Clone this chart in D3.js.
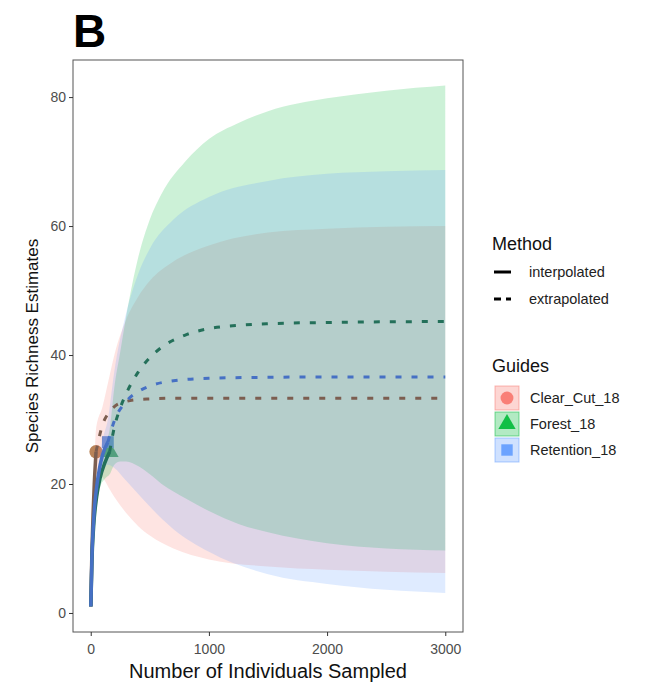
<!DOCTYPE html>
<html>
<head>
<meta charset="utf-8">
<script src="https://cdn.jsdelivr.net/npm/d3@7"></script>
<style>
  body { margin: 0; background: #fff; }
  svg text { font-family: "Liberation Sans", Arial, sans-serif; }
</style>
</head>
<body>
<div id="chart"></div>
<script>
var width = 649,
    height = 689;

// sites and their colours
var sites = ["Clear_Cut_18", "Forest_18", "Retention_18"];
var fillColors = ["#F8766D", "#00BA38", "#619CFF"];
var lineColors = ["#7c5e50", "#24705a", "#4670c4"];
var pointColors = ["#b98358", "#3fa467", "#5b8fdc"];
var shapes = ["circle", "triangle", "square"];

// observed sample (reference) points
var obsN = [45, 160, 145];
var obsS = [25, 25, 26.5];

// Clear_Cut_18
var clearM  = [1, 5, 10, 20, 30, 45, 100, 150, 200, 300, 400, 500, 700, 1000, 1500, 2000, 2500, 3000];
var clearEst = [1, 5.2, 9.5, 15.5, 20, 25, 29.2, 31.0, 32.0, 32.8, 33.1, 33.2, 33.3, 33.3, 33.3, 33.3, 33.3, 33.3];
var clearLo = [1, 4.8, 8.8, 14, 18, 21.5, 21, 19.5, 18, 15.5, 13.5, 12, 10, 8.3, 7.2, 6.7, 6.4, 6.2];
var clearHi = [1, 5.6, 10.2, 17, 22, 28.5, 32, 36, 40, 45.5, 49, 51.5, 54.5, 57, 59, 59.6, 59.9, 60];

// Forest_18
var forestM  = [1, 10, 25, 50, 80, 120, 160, 200, 250, 300, 400, 500, 600, 800, 1000, 1250, 1500, 2000, 2500, 3000];
var forestEst = [1, 8, 13.5, 18, 21, 23.3, 25, 28.8, 31.8, 34.0, 37.3, 39.6, 41.2, 43.1, 44.1, 44.6, 44.85, 45.05, 45.15, 45.2];
var forestLo = [1, 7.5, 12.7, 16.8, 19.5, 20.8, 21.5, 23, 23.5, 23.5, 22.8, 21.5, 20, 17.8, 15.8, 13.8, 12.5, 10.8, 10, 9.7];
var forestHi = [1, 8.5, 14.3, 19.2, 22.5, 25.8, 28.5, 35, 40.5, 46, 55, 61, 65, 70, 73.5, 76, 77.8, 79.8, 81, 81.8];

// Retention_18
var retM  = [1, 10, 25, 50, 75, 100, 145, 200, 300, 400, 500, 700, 1000, 1500, 2000, 2500, 3000];
var retEst = [1, 8.5, 14.5, 19.5, 22.5, 24.5, 26.5, 29.8, 32.8, 34.3, 35.2, 36.0, 36.4, 36.55, 36.6, 36.6, 36.6];
var retLo = [1, 8, 13.6, 18.2, 20.8, 22.2, 23, 22.5, 20.5, 18.5, 16.5, 13, 9.5, 6, 4.5, 3.6, 3.1];
var retHi = [1, 9, 15.4, 20.8, 24.2, 26.8, 30, 37.5, 46.5, 52.5, 56.5, 61, 64.5, 67, 68.1, 68.5, 68.7];

var xTicks = [0, 1000, 2000, 3000];
var yTicks = [0, 20, 40, 60, 80];
var methods = ["interpolated", "extrapolated"];

function build(m, est, lo, hi, n) {
    return m.map(function(v, i) {
        return { m: v, est: est[i], lo: lo[i], hi: hi[i], interp: v <= n };
    });
}

var series = [
    build(clearM, clearEst, clearLo, clearHi, obsN[0]),
    build(forestM, forestEst, forestLo, forestHi, obsN[1]),
    build(retM, retEst, retLo, retHi, obsN[2])
];

var svg = d3.select("#chart").append("svg")
    .attr("width", width)
    .attr("height", height);

var panel = { left: 73, right: 463, top: 60, bottom: 632 };

var x = d3.scaleLinear().domain([-150, 3150]).range([panel.left, panel.right]);
var y = d3.scaleLinear().domain([-2.95, 85.75]).range([panel.bottom, panel.top]);

// observed points (drawn under the bands, as in the original)
function shapePath(shape, size) {
    var sym = shape === "circle" ? d3.symbolCircle :
              shape === "triangle" ? d3.symbolTriangle : d3.symbolSquare;
    return d3.symbol().type(sym).size(size)();
}

svg.append("g")
    .selectAll("path")
    .data(sites)
    .enter().append("path")
    .attr("d", function(d, i) { return shapePath(shapes[i], 140); })
    .attr("transform", function(d, i) {
        return "translate(" + x(obsN[i]) + "," + y(obsS[i]) + ")";
    })
    .attr("fill", function(d, i) { return pointColors[i]; });

// ribbons (confidence bands)
var area = d3.area()
    .x(function(d) { return x(d.m); })
    .y0(function(d) { return y(d.lo); })
    .y1(function(d) { return y(d.hi); })
    .curve(d3.curveMonotoneX);

svg.append("g")
    .selectAll("path")
    .data(series)
    .enter().append("path")
    .attr("d", area)
    .attr("fill", function(d, i) { return fillColors[i]; })
    .attr("fill-opacity", 0.2);

// estimate lines
var line = d3.line()
    .x(function(d) { return x(d.m); })
    .y(function(d) { return y(d.est); })
    .curve(d3.curveMonotoneX);

var lines = svg.append("g");
series.forEach(function(s, i) {
    var interp = s.filter(function(d) { return d.interp; });
    var extrap = s.filter(function(d) { return d.m >= obsN[i]; });
    lines.append("path")
        .attr("d", line(extrap))
        .attr("fill", "none")
        .attr("stroke", lineColors[i])
        .attr("stroke-width", 3)
        .attr("stroke-dasharray", "6,10");
    lines.append("path")
        .attr("d", line(interp))
        .attr("fill", "none")
        .attr("stroke", lineColors[i])
        .attr("stroke-width", 3.5);
});

// panel border
svg.append("rect")
    .attr("x", panel.left)
    .attr("y", panel.top)
    .attr("width", panel.right - panel.left)
    .attr("height", panel.bottom - panel.top)
    .attr("fill", "none")
    .attr("stroke", "#555")
    .attr("stroke-width", 1);

// axes
var xAxis = svg.append("g")
    .attr("transform", "translate(0," + panel.bottom + ")")
    .call(d3.axisBottom(x).tickValues(xTicks).tickFormat(d3.format("d")).tickSize(4).tickSizeOuter(0));
var yAxis = svg.append("g")
    .attr("transform", "translate(" + panel.left + ",0)")
    .call(d3.axisLeft(y).tickValues(yTicks).tickFormat(d3.format("d")).tickSize(4).tickSizeOuter(0));

[xAxis, yAxis].forEach(function(a) {
    a.select(".domain").remove();
    a.selectAll(".tick line").attr("stroke", "#333");
    a.selectAll(".tick text")
        .attr("fill", "#4d4d4d")
        .style("font-size", "14px")
        .style("font-family", "'Liberation Sans', Arial, sans-serif");
});
xAxis.selectAll(".tick text").attr("dy", "1.1em");

// axis titles
svg.append("text")
    .attr("x", (panel.left + panel.right) / 2)
    .attr("y", 678)
    .attr("text-anchor", "middle")
    .attr("fill", "#111")
    .style("font-size", "20px")
    .text("Number of Individuals Sampled");

svg.append("text")
    .attr("transform", "translate(38," + (panel.top + panel.bottom) / 2 + ") rotate(-90)")
    .attr("text-anchor", "middle")
    .attr("fill", "#111")
    .style("font-size", "17px")
    .text("Species Richness Estimates");

// panel tag
svg.append("text")
    .attr("x", 73)
    .attr("y", 47)
    .attr("fill", "#000")
    .style("font-size", "46px")
    .style("font-weight", "bold")
    .text("B");

// legend: Method
var leg = svg.append("g");
leg.append("text")
    .attr("x", 492).attr("y", 250)
    .attr("fill", "#111")
    .style("font-size", "18px")
    .text("Method");

leg.selectAll(".mkey")
    .data(methods)
    .enter().append("line")
    .attr("x1", 494).attr("x2", 511)
    .attr("y1", function(d, i) { return 272 + i * 27; })
    .attr("y2", function(d, i) { return 272 + i * 27; })
    .attr("stroke", "#000")
    .attr("stroke-width", 3)
    .attr("stroke-dasharray", function(d, i) { return i ? "7,5" : null; });

leg.selectAll(".mlab")
    .data(methods)
    .enter().append("text")
    .attr("x", 529)
    .attr("y", function(d, i) { return 277 + i * 27; })
    .attr("fill", "#222")
    .style("font-size", "14.5px")
    .text(function(d) { return d; });

// legend: Guides
leg.append("text")
    .attr("x", 492).attr("y", 372)
    .attr("fill", "#111")
    .style("font-size", "18px")
    .text("Guides");

var keys = leg.selectAll(".gkey")
    .data(sites)
    .enter().append("g")
    .attr("transform", function(d, i) { return "translate(495," + (386 + i * 26) + ")"; });

keys.append("rect")
    .attr("width", 24).attr("height", 24)
    .attr("fill", function(d, i) { return fillColors[i]; })
    .attr("fill-opacity", 0.3)
    .attr("stroke", function(d, i) { return fillColors[i]; })
    .attr("stroke-opacity", 0.5);

keys.append("path")
    .attr("d", function(d, i) { return shapePath(shapes[i], 130); })
    .attr("transform", "translate(12,12)")
    .attr("fill", function(d, i) { return fillColors[i]; })
    .attr("fill-opacity", 0.9);

keys.append("text")
    .attr("x", 35)
    .attr("y", 17)
    .attr("fill", "#222")
    .style("font-size", "14.5px")
    .text(function(d) { return d; });
</script>
</body>
</html>
